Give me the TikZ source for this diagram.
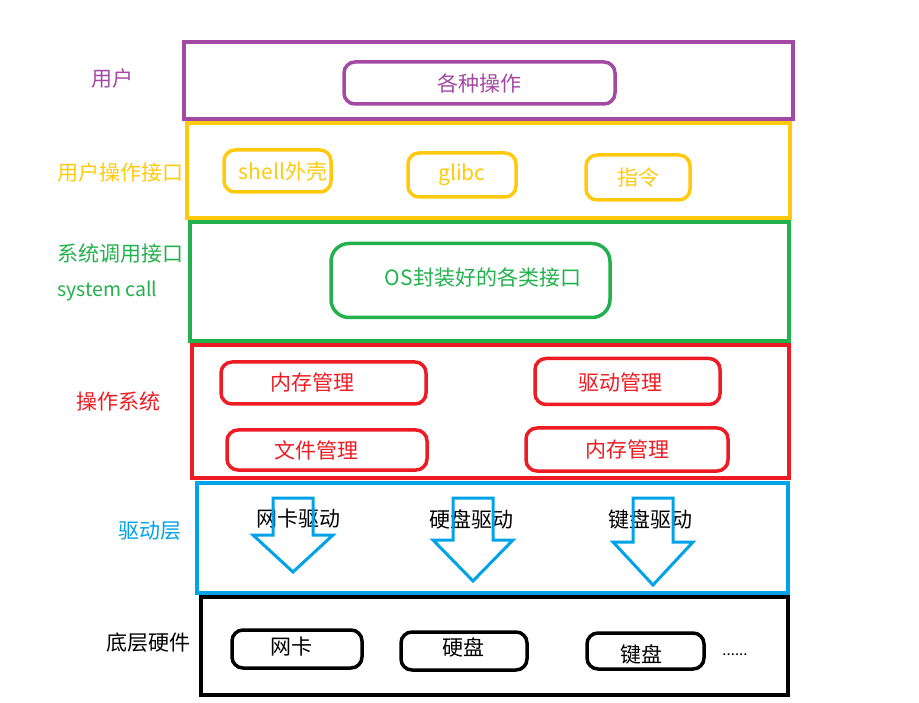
\documentclass[tikz,border=0pt]{standalone}
\usepackage{fontspec}
\setmainfont{Noto Sans CJK SC}
\definecolor{upurple}{HTML}{A349A4}
\definecolor{uyellow}{HTML}{FFC90E}
\definecolor{ugreen}{HTML}{22B14C}
\definecolor{ured}{HTML}{ED1C24}
\definecolor{ublue}{HTML}{00A2E8}
\begin{document}
\begin{tikzpicture}[x=1pt, y=-1pt,
	layer/.style={draw=#1, line width=4pt, inner sep=0pt},
	item/.style={draw=#1, text=#1, line width=3.5pt, rounded corners=11pt, inner sep=0pt},
	tag/.style={text=#1, inner sep=0pt},
	font=\fontsize{21pt}{24pt}\selectfont]
	\useasboundingbox (0,0) rectangle (919,703);
	
	% User
	\node[layer=upurple, minimum width=609, minimum height=77] (user) at (488.5,80.5) {};
	\node[tag=upurple] (userL) at (112,79) {用户};
	\node[item=upurple, minimum width=271, minimum height=42] (ops) at (479.5,83) {各种操作};
	
	% User interface
	\node[layer=uyellow, minimum width=603, minimum height=95] (iface) at (488.5,170.5) {};
	\node[tag=uyellow] (ifaceL) at (120,173) {用户操作接口};
	\node[item=uyellow, minimum width=107, minimum height=42] (shell) at (277.5,171) {};
	\node[tag=uyellow] (shellL) at (283,172) {shell外壳};
	\node[item=uyellow, minimum width=108, minimum height=44] (glibc) at (462,175) {glibc};
	\node[item=uyellow, minimum width=104, minimum height=45] (cmd) at (638,177.5) {指令};
	
	% System call
	\node[layer=ugreen, minimum width=599, minimum height=119] (syscall) at (489.5,281.5) {};
	\node[tag=ugreen] (syscallL) at (120,254) {系统调用接口};
	\node[tag=ugreen, anchor=west, font=\fontsize{19.5pt}{22pt}\selectfont] (syscallE) at (57,291) {system call};
	\node[item=ugreen, minimum width=279, minimum height=74, rounded corners=18pt] (osapi) at (470.5,280.5) {};
	\node[tag=ugreen] (osapiL) at (483,277) {OS封装好的各类接口};
	
	% Operating system
	\node[layer=ured, minimum width=597, minimum height=133] (os) at (490.5,411.5) {};
	\node[tag=ured] (osL) at (118,401) {操作系统};
	\node[item=ured, minimum width=205, minimum height=42] (mem) at (323.5,383) {};
	\node[tag=ured] (memL) at (312,382) {内存管理};
	\node[item=ured, minimum width=185, minimum height=46] (drv) at (627.5,381.5) {};
	\node[tag=ured] (drvL) at (620,382) {驱动管理};
	\node[item=ured, minimum width=200, minimum height=40] (file) at (327,450) {};
	\node[tag=ured] (fileL) at (316,450) {文件管理};
	\node[item=ured, minimum width=202, minimum height=43] (mem2) at (627,449.5) {内存管理};
	
	% Driver layer
	\node[layer=ublue, minimum width=591, minimum height=110] (driver) at (492.5,538) {};
	\node[tag=ublue] (driverL) at (150,531) {驱动层};
	\node[tag=black] (nicD) at (298,519) {网卡驱动};
	\node[tag=black] (diskD) at (471,519) {硬盘驱动};
	\node[tag=black] (keyD) at (650,519) {键盘驱动};
	\foreach \cx/\hy/\ty in {293/535/572, 473/540/581, 653/542/585} {
		\draw[ublue, line width=3pt, line join=miter]
		(\cx-20,498) -- (\cx+20,498) -- (\cx+20,\hy) -- (\cx+40,\hy) --
		(\cx,\ty) -- (\cx-40,\hy) -- (\cx-20,\hy) -- cycle;
	}
	
	% Hardware
	\node[layer=black, minimum width=587, minimum height=98] (hw) at (494.5,646) {};
	\node[tag=black] (hwL) at (148,643) {底层硬件};
	\node[item=black, minimum width=130, minimum height=38] (nic) at (297,649) {};
	\node[tag=black] (nicL) at (291,647) {网卡};
	\node[item=black, minimum width=126, minimum height=38] (disk) at (464,651) {};
	\node[tag=black] (diskL) at (463,647) {硬盘};
	\node[item=black, minimum width=117, minimum height=36] (key) at (645.5,651) {};
	\node[tag=black] (keyL) at (641,654) {键盘};
	\node[tag=black, font=\fontsize{15pt}{17pt}\selectfont] (more) at (735,655) {......};
\end{tikzpicture}
\end{document}
